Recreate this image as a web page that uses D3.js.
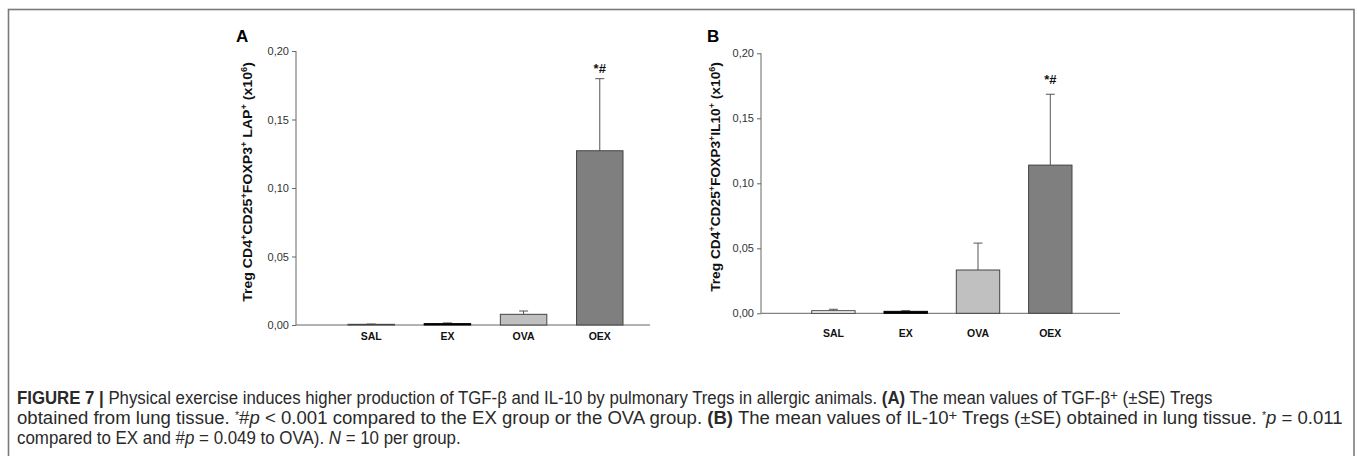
<!DOCTYPE html>
<html><head><meta charset="utf-8">
<script src="https://cdn.jsdelivr.net/npm/d3@7"></script>
<style>
html,body{margin:0;padding:0;background:#fff;}
svg{display:block;}
</style></head>
<body>
<svg id="chart" width="1358" height="456"></svg>
<script>
const categories = ["SAL","EX","OVA","OEX"];
const barColors = ["#ffffff","#000000","#c0c0c0","#7f7f7f"];
const valuesA = [0.0005, 0.0010, 0.0078, 0.1272];
const errorsA = [0.0002, 0.0005, 0.0024, 0.0526];
const valuesB = [0.0020, 0.0015, 0.0333, 0.1140];
const errorsB = [0.0011, 0.0005, 0.0207, 0.0545];
const yTicks = [0, 0.05, 0.10, 0.15, 0.20];
const sigLabel = "*#";

const svg = d3.select("#chart");
const FONT = "'Liberation Sans', Arial, sans-serif";

svg.append("rect").attr("x",8.5).attr("y",9.5).attr("width",1345.5).attr("height",460)
  .attr("fill","none").attr("stroke","#7a7a7a").attr("stroke-width",1.6);

function panel(cfg){
  const g = svg.append("g");
  const y = d3.scaleLinear().domain([0,0.20]).range([cfg.y0, cfg.y20]);
  const x = d3.scaleBand().domain(categories).range(cfg.barRange).paddingInner(cfg.pad).paddingOuter(0);
  const ax = d3.axisLeft(y).tickValues(yTicks).tickSize(4).tickPadding(3)
     .tickFormat(d => d3.format(".2f")(d).replace(".", ","));
  const ag = g.append("g").attr("transform",`translate(${cfg.axisX},0)`).call(ax);
  ag.select(".domain").attr("stroke","#666").attr("stroke-width",1).attr("d",`M0,${cfg.y20}V${cfg.y0}`);
  ag.selectAll(".tick line").attr("stroke","#666");
  ag.selectAll(".tick text").attr("fill","#333").style("font-family",FONT).style("font-size","11px");
  g.append("line").attr("x1",cfg.axisX).attr("x2",cfg.axisEnd).attr("y1",y(0)).attr("y2",y(0))
    .attr("stroke","#666").attr("stroke-width",1);
  const eg = g.append("g");
  categories.forEach((c,i)=>{
    const cx = x(c)+x.bandwidth()/2;
    const top = y(cfg.values[i]+cfg.errors[i]);
    eg.append("line").attr("x1",cx).attr("x2",cx).attr("y1",y(cfg.values[i])).attr("y2",top)
      .attr("stroke","#555").attr("stroke-width",1);
    eg.append("line").attr("x1",cx-4.5).attr("x2",cx+4.5).attr("y1",top).attr("y2",top)
      .attr("stroke","#555").attr("stroke-width",1);
  });
  g.selectAll("rect.bar").data(categories).join("rect").attr("class","bar")
    .attr("x",d=>x(d)).attr("width",x.bandwidth())
    .attr("y",(d,i)=>y(cfg.values[i])).attr("height",(d,i)=>y(0)-y(cfg.values[i]))
    .attr("fill",(d,i)=>barColors[i]).attr("stroke",(d,i)=> i===1?"#000":"#444").attr("stroke-width",1);
  g.selectAll("text.cat").data(categories).join("text").attr("class","cat")
    .attr("x",d=>x(d)+x.bandwidth()/2).attr("y",cfg.catY)
    .attr("text-anchor","middle").attr("fill","#111")
    .style("font-family",FONT).style("font-size","10.5px").style("font-weight","bold").text(d=>d);
  const last = categories[3];
  g.append("text").attr("x",x(last)+x.bandwidth()/2).attr("y",y(cfg.values[3]+cfg.errors[3])-cfg.sigOff)
    .attr("text-anchor","middle").attr("fill","#111").style("font-family",FONT)
    .style("font-size","13px").style("font-weight","bold").text(sigLabel);
  g.append("text").attr("x",cfg.letterX).attr("y",42).attr("fill","#000").style("font-family",FONT)
    .style("font-size","17px").style("font-weight","bold").text(cfg.letter);
  const yl = g.append("text")
    .attr("text-anchor","middle").attr("fill","#111").style("font-family",FONT)
    .style("font-size","13px").style("font-weight","bold");
  cfg.label.forEach(p=>{
    const t = yl.append("tspan").text(p[0]);
    if(p[1]==="sup"){ t.attr("baseline-shift","super").style("font-size","8.5px"); }
  });
  const lw = yl.node().getComputedTextLength();
  yl.attr("transform",`translate(${cfg.labelX},${cfg.labelY}) rotate(-90) scale(${cfg.labelLen/lw},1)`);
}

panel({letter:"A", letterX:236, axisX:296, axisEnd:650, y0:325, y20:51, barRange:[348,623], pad:0.39,
  values:valuesA, errors:errorsA, catY:340, labelX:252, labelY:182, labelLen:240, sigOff:6,
  label:[["Treg CD4"],["+","sup"],["CD25"],["+","sup"],["FOXP3"],["+","sup"],[" LAP"],["+","sup"],[" (x10"],["6","sup"],[")"]]});
panel({letter:"B", letterX:707, axisX:761, axisEnd:1120, y0:313.3, y20:53.3, barRange:[811.7,1072], pad:0.4,
  values:valuesB, errors:errorsB, catY:337, labelX:720, labelY:177, labelLen:230, sigOff:10,
  label:[["Treg CD4"],["+","sup"],["CD25"],["+","sup"],["FOXP3"],["+","sup"],["IL10"],["+","sup"],[" (x10"],["6","sup"],[")"]]});

const CAP = "'Liberation Sans', Arial, sans-serif";
const lines = [
  {y:404, w:1196, parts:[["FIGURE 7 |","b"],[" Physical exercise induces higher production of TGF-β and IL-10 by pulmonary Tregs in allergic animals. "],["(A)","b"],[" The mean values of TGF-β"],["+","sup"],[" (±SE) Tregs"]]},
  {y:424, w:1326, parts:[["obtained from lung tissue. "],["*","sup2"],["#"],["p","i"],[" < 0.001 compared to the EX group or the OVA group. "],["(B)","b"],[" The mean values of IL-10"],["+","sup"],[" Tregs (±SE) obtained in lung tissue. "],["*","sup2"],["p","i"],[" = 0.011"]]},
  {y:444, w:444, parts:[["compared to EX and #"],["p","i"],[" = 0.049 to OVA). "],["N","i"],[" = 10 per group."]]}
];
lines.forEach(L=>{
  const t = svg.append("text").attr("x",0).attr("y",0).attr("fill","#2a2a2a")
    .style("font-family",CAP).style("font-size","17.5px");
  L.parts.forEach(p=>{
    const s = t.append("tspan").text(p[0]);
    if(p[1]==="b") s.style("font-weight","bold");
    if(p[1]==="i") s.style("font-style","italic");
    if(p[1]==="sup") s.attr("baseline-shift","30%").style("font-size","14px");
    if(p[1]==="sup2") s.attr("baseline-shift","super").style("font-size","10px");
  });
  const w = t.node().getComputedTextLength();
  const k = L.w / w;
  t.attr("transform",`translate(17,${L.y}) scale(${k},1)`);
});
</script>
</body></html>
